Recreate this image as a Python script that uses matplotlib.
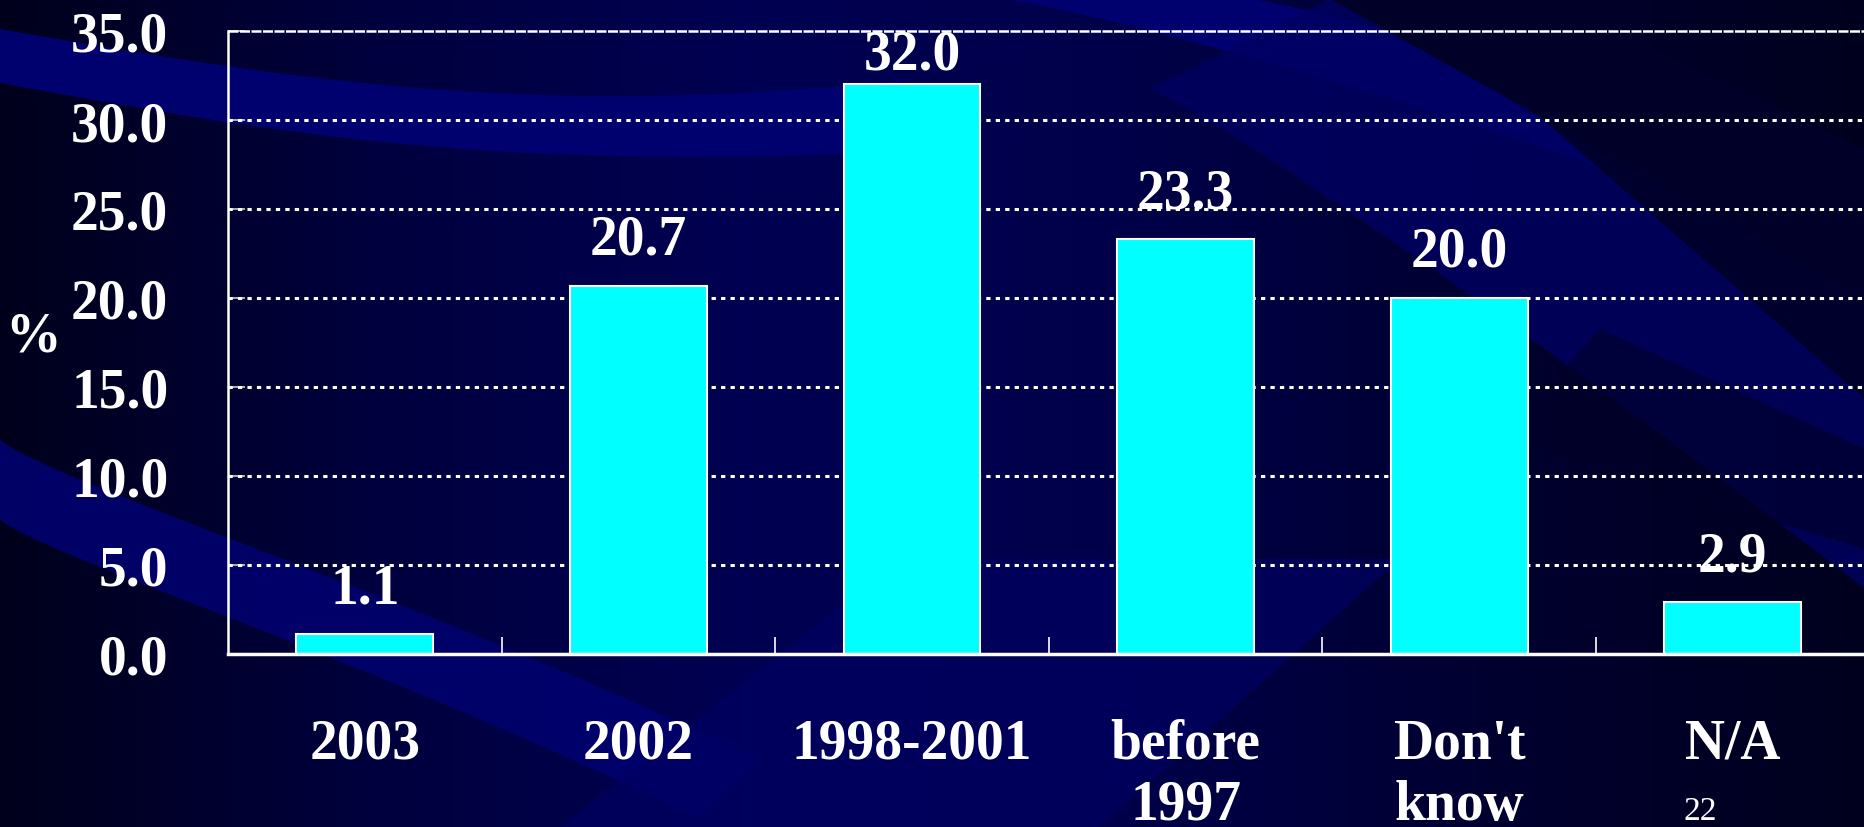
import numpy as np
import matplotlib
matplotlib.use("Agg")
import matplotlib.pyplot as plt
from matplotlib.colors import LinearSegmentedColormap

# Survey result: when the respondents started
categories = ["2003", "2002", "1998-2001", "before\n1997", "Don't\nknow", "N/A"]
percent = [1.1, 20.7, 32.0, 23.3, 20.0, 2.9]
y_ticks = [0.0, 5.0, 10.0, 15.0, 20.0, 25.0, 30.0, 35.0]
page_number = "22"

W, H = 1865, 828
fig = plt.figure(figsize=(W / 100, H / 100), dpi=100)

# ---- decorative slide background ----
bg = fig.add_axes([0, 0, 1, 1], zorder=-10)
bg.set_xlim(0, W)
bg.set_ylim(H, 0)
bg.axis("off")
grad = LinearSegmentedColormap.from_list(
    "slide", ["#00001c", "#00003e", "#000052", "#00004a", "#000030", "#00001e"])
xx = np.linspace(0, 1, 400)[None, :]
bg.imshow(np.repeat(xx, 2, axis=0), cmap=grad, aspect="auto",
          extent=[0, W, H, 0], zorder=0)

band = "#00006e"
band2 = "#000062"
dark = "#000028"
t = np.linspace(0, 1, 200)


def ribbon(xa, ya, xb, yb, color, alpha=1.0):
    bg.fill(np.concatenate([xa, xb[::-1]]), np.concatenate([ya, yb[::-1]]),
            color=color, lw=0, alpha=alpha, zorder=1)


# upper-left sweep
x = t * 900
ribbon(x, 30 + 60 * np.sin(np.pi * t * 0.8) * 0.9 + 20 * t, x,
       84 + 70 * t + 30 * np.sin(np.pi * t), band)
# lower-left curved sweep
x1 = 0 + 760 * t
ribbon(x1, 440 + 240 * t ** 0.8 + 80 * t ** 2, x1 - 60 * t,
       520 + 220 * t ** 0.8 + 80 * t ** 2, band, 0.9)
# wide lighter area in the lower middle
bg.fill([560, 1100, 1400, 900], [828, 828, 560, 560], color=band2, lw=0, zorder=1, alpha=0.7)
# diagonal sweeps on the right
ribbon(1000 + 865 * t, 0 + 260 * t ** 1.2, 1250 + 615 * t, 0 + 200 * t ** 1.2, band)
ribbon(1330 + 535 * t, 0 + 300 * t, 1550 + 315 * t, 0 + 150 * t, dark)
ribbon(1150 + 715 * t, 90 + 500 * t ** 1.1, 1330 + 535 * t, 0 + 300 * t, band2, 0.8)
ribbon(1450 + 415 * t, 40 + 360 * t, 1600 + 265 * t, 0 + 210 * t, dark, 0.9)
ribbon(1500 + 365 * t, 440 + 110 * t, 1600 + 265 * t, 330 + 120 * t, dark, 0.6)

# ---- chart ----
font = "Liberation Serif"
fs = 40
left, top, bottom, cat_w = 228, 32, 655, 273.6
ax = fig.add_axes([left / W, (H - bottom) / H, 6 * cat_w / W, (bottom - top) / H])
ax.patch.set_alpha(0)

xpos = np.arange(len(categories))
ax.bar(xpos, percent, width=0.5, color="#00ffff", edgecolor="white",
       linewidth=1.5, zorder=3)

ax.set_xlim(-0.5, len(categories) - 0.5)
ax.set_ylim(0, 35)

# dotted grid lines
for v in y_ticks[1:-1]:
    ax.axhline(v, color="white", lw=2.2, ls=(0, (1.4, 1.7)), zorder=2)
ax.axhline(y_ticks[-1], color="white", lw=1.8, ls=(0, (4, 0.6)), zorder=2,
           clip_on=False)

for side in ["top", "right"]:
    ax.spines[side].set_visible(False)
ax.spines["left"].set_color("white")
ax.spines["left"].set_linewidth(1.8)
ax.spines["bottom"].set_color("white")
ax.spines["bottom"].set_linewidth(2.5)
ax.spines["bottom"].set_zorder(4)

ax.set_yticks(y_ticks)
ax.set_yticklabels([f"{v:.1f}" for v in y_ticks])
ax.tick_params(axis="y", direction="in", length=12, width=1.2, color="#cccccc",
               pad=43, labelcolor="white", labelsize=fs)
ax.set_xticks(xpos)
ax.set_xticklabels(categories, linespacing=1.22)
ax.tick_params(axis="x", which="major", length=0, pad=46,
               labelcolor="white", labelsize=fs)
ax.set_xticks(xpos[:-1] + 0.5, minor=True)
ax.tick_params(axis="x", which="minor", direction="in", length=12, width=1.2,
               color="white")
for lab in ax.get_xticklabels() + ax.get_yticklabels():
    lab.set_fontfamily(font)
    lab.set_fontweight("bold")

# value labels above bars, kept inside the plot area
for xi, v in zip(xpos, percent):
    y = min(v + 1.8, 32.9)
    ax.text(xi, y, f"{v:.1f}", ha="center", va="baseline", color="white",
            fontsize=fs, fontweight="bold", family=font, zorder=5)

fig.text(33 / W, 1 - 337 / H, "%", ha="center", va="center", color="white",
         fontsize=fs, fontweight="bold", family=font)
fig.text(1700 / W, 1 - 812 / H, page_number, ha="center", va="center",
         color="white", fontsize=24, family=font)

fig.savefig("out.png", dpi=100, facecolor="#000030")
